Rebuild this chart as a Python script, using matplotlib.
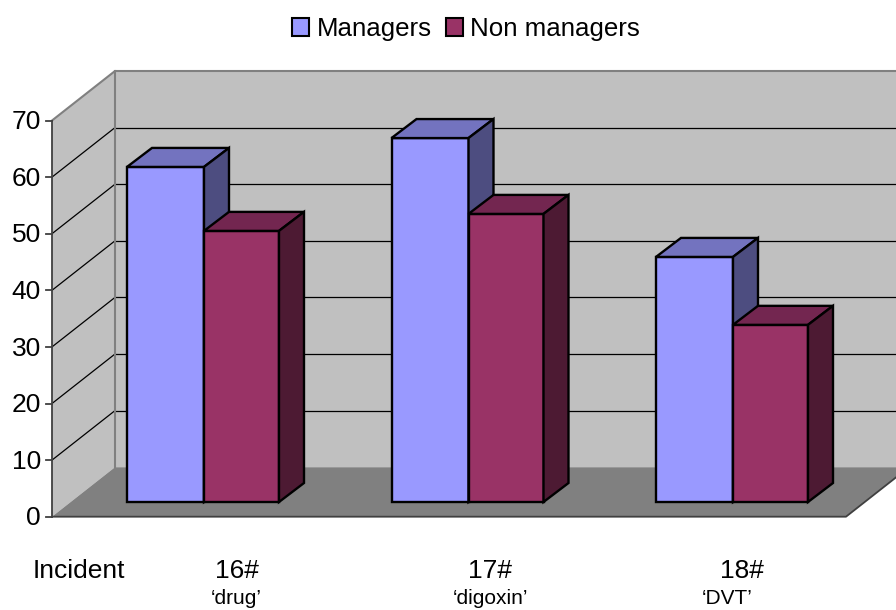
import matplotlib
matplotlib.use("Agg")
import matplotlib.pyplot as plt
from matplotlib.patches import Patch, Polygon

plt.rcParams['font.family'] = ['Liberation Sans', 'DejaVu Sans']

# values
incidents = ['16#', '17#', '18#']
drugs = ['\u2018drug\u2019', '\u2018digoxin\u2019', '\u2018DVT\u2019']
managers = [59.2, 64.3, 43.3]
non_managers = [47.9, 50.9, 31.3]
ticks = [0, 10, 20, 30, 40, 50, 60, 70]

# x is in pixels, y is in value units
px_per_unit = 5.66
zero_px = 516.7
wall_dx = 63
wall_dy = 49.5 / px_per_unit
wall_x = 52
floor_right = 846
bar_base = (zero_px - 502) / px_per_unit
bar_dx = 25
bar_dy = 19 / px_per_unit
group_left = 127
group_step = 264.5
width_m = 77
width_n = 75

blue = ('#9999ff', '#7373bf', '#4d4d80')
wine = ('#993366', '#732650', '#4d1a33')

fig = plt.figure(figsize=(8.96, 6.10), dpi=100)
ax = fig.add_axes([0, 0, 1, 1])
ax.set_xlim(0, 896)
ax.set_ylim(-(610 - zero_px) / px_per_unit, zero_px / px_per_unit)
ax.axis('off')


def box(x, w, value, colors):
    y0 = bar_base
    y1 = bar_base + value
    ec = dict(edgecolor='black', linewidth=1.7, joinstyle='miter', zorder=3)
    ax.add_patch(Polygon([(x, y0), (x + w, y0), (x + w, y1), (x, y1)], facecolor=colors[0], **ec))
    ax.add_patch(Polygon([(x, y1), (x + w, y1), (x + w + bar_dx, y1 + bar_dy), (x + bar_dx, y1 + bar_dy)],
                         facecolor=colors[1], **ec))
    ax.add_patch(Polygon([(x + w, y0), (x + w + bar_dx, y0 + bar_dy), (x + w + bar_dx, y1 + bar_dy), (x + w, y1)],
                         facecolor=colors[2], **ec))


top = ticks[-1]
back_x = wall_x + wall_dx

# walls and floor
ax.add_patch(Polygon([(back_x, wall_dy), (910, wall_dy), (910, top + wall_dy), (back_x, top + wall_dy)],
                     facecolor='#c0c0c0', edgecolor='none', zorder=1))
ax.add_patch(Polygon([(wall_x, 0), (back_x, wall_dy), (back_x, top + wall_dy), (wall_x, top)],
                     facecolor='#c0c0c0', edgecolor='none', zorder=1))
ax.add_patch(Polygon([(wall_x, 0), (floor_right, 0), (floor_right + wall_dx, wall_dy), (back_x, wall_dy)],
                     facecolor='#808080', edgecolor='none', zorder=1))

# gridlines
for t in ticks[1:-1]:
    ax.plot([wall_x, back_x], [t, t + wall_dy], color='black', lw=0.9, zorder=2)
    ax.plot([back_x, 896], [t + wall_dy, t + wall_dy], color='black', lw=0.9, zorder=2)

# wall edges
ax.plot([wall_x, back_x, 896], [top, top + wall_dy, top + wall_dy], color='#808080', lw=1.5, zorder=2)
ax.plot([back_x, back_x], [wall_dy, top + wall_dy], color='#808080', lw=1.5, zorder=2)

# axis
ax.plot([wall_x, wall_x], [0, top], color='#404040', lw=1.3, zorder=2)
ax.plot([wall_x, floor_right, floor_right + wall_dx], [0, 0, wall_dy], color='#404040', lw=1.3, zorder=2)
for t in ticks:
    ax.plot([wall_x - 6, wall_x], [t, t], color='#404040', lw=1.3, zorder=2)
    ax.text(wall_x - 11, t + 0.15, str(t), ha='right', va='center_baseline', fontsize=19, color='black')

# bars
for i in range(len(incidents)):
    x = group_left + group_step * i
    box(x, width_m, managers[i], blue)
    box(x + width_m, width_n, non_managers[i], wine)

# labels under the chart
label_y = (zero_px - 571) / px_per_unit
sub_y = (zero_px - 598) / px_per_unit
ax.text(79, label_y, 'Incident', ha='center', va='center', fontsize=19)
for x, s in zip([237, 490, 742], incidents):
    ax.text(x, label_y, s, ha='center', va='center', fontsize=19)
for x, s in zip([236, 490, 727], drugs):
    ax.text(x, sub_y, s, ha='center', va='center', fontsize=15)

handles = [Patch(facecolor=blue[0], edgecolor='black', linewidth=1.5, label='Managers'),
           Patch(facecolor=wine[0], edgecolor='black', linewidth=1.5, label='Non managers')]
ax.legend(handles=handles, ncol=2, loc='center', bbox_to_anchor=(466 / 896, 1 - 29 / 610), frameon=False,
          fontsize=18.6, handlelength=0.65, handleheight=0.65, handletextpad=0.3, columnspacing=0.56,
          borderpad=0, borderaxespad=0)

fig.savefig('out.png', dpi=100)
